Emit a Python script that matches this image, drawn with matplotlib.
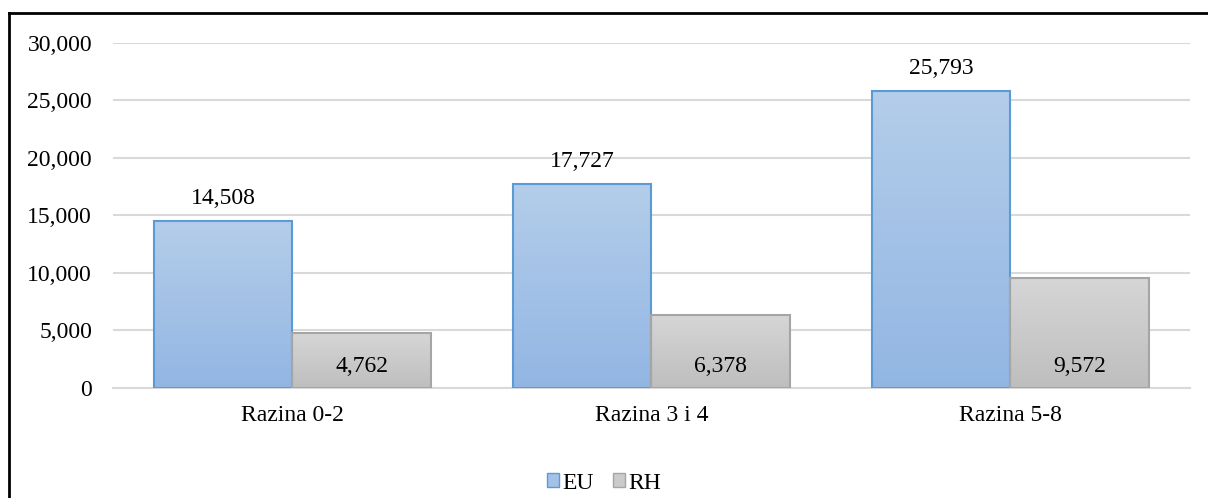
import numpy as np
import matplotlib
matplotlib.use('Agg')
import matplotlib.pyplot as plt
from matplotlib.colors import LinearSegmentedColormap
from matplotlib.lines import Line2D
from matplotlib.patches import Patch

plt.rcParams['font.family'] = ['Liberation Serif', 'DejaVu Serif']

categories = ['Razina 0-2', 'Razina 3 i 4', 'Razina 5-8']
eu_values = [14508, 17727, 25793]
rh_values = [4762, 6378, 9572]
series_names = ['EU', 'RH']

fig = plt.figure(figsize=(12.08, 4.98), dpi=100)
ax = fig.add_axes([0.0935, 0.2209, 0.8915, 0.6928])

x = np.arange(len(categories))
w = 0.385
fs = 17

blue_cmap = LinearSegmentedColormap.from_list('b', ['#92b6e3', '#b4cdea'])
grey_cmap = LinearSegmentedColormap.from_list('g', ['#bebebe', '#d6d6d6'])
grad = np.linspace(0, 1, 256).reshape(-1, 1)


def gradient_bars(bars, cmap):
    # fill each bar with a vertical gradient clipped to the bar shape
    for b in bars:
        x0, y0 = b.get_x(), b.get_y()
        x1, y1 = x0 + b.get_width(), y0 + b.get_height()
        im = ax.imshow(grad, extent=[x0, x1, y0, y1], origin='lower', cmap=cmap,
                       aspect='auto', zorder=2)
        im.set_clip_path(b)


eu_bars = ax.bar(x - w / 2, eu_values, w, facecolor='none', edgecolor='#5b9bd5', linewidth=1.5, zorder=3)
rh_bars = ax.bar(x + w / 2, rh_values, w, facecolor='none', edgecolor='#a5a5a5', linewidth=1.5, zorder=3)
gradient_bars(eu_bars, blue_cmap)
gradient_bars(rh_bars, grey_cmap)

for xi, v in zip(x, eu_values):
    ax.text(xi - w / 2, v + 2000, f'{v:,}', ha='center', va='center', fontsize=fs)
for xi, v in zip(x, rh_values):
    ax.text(xi + w / 2, 1900, f'{v:,}', ha='center', va='center', fontsize=fs)

ax.set_xlim(-0.5, 2.5)
ax.set_ylim(0, 30000)
ax.set_yticks(range(0, 30001, 5000))
ax.set_yticklabels([f'{t:,}' for t in range(0, 30001, 5000)], fontsize=fs)
ax.set_xticks(x)
ax.set_xticklabels(categories, fontsize=fs)
ax.tick_params(length=0, pad=12)
ax.tick_params(axis='y', pad=15)
ax.grid(axis='y', color='#d9d9d9', linewidth=1.5, zorder=0)
ax.set_axisbelow(True)
for s in ['top', 'right', 'left']:
    ax.spines[s].set_visible(False)
ax.spines['bottom'].set_color('#d9d9d9')
ax.spines['bottom'].set_linewidth(1.5)

handles = [Patch(facecolor='#a4c2e8', edgecolor='#5b9bd5'),
           Patch(facecolor='#cbcbcb', edgecolor='#a5a5a5')]
fig.legend(handles, series_names, loc='center', bbox_to_anchor=(0.5, 0.03), ncol=2, frameon=False,
           fontsize=fs, handlelength=0.5, handleheight=0.5, handletextpad=0.15, columnspacing=0.8)

# outer frame (top and left edges visible)
fig.add_artist(Line2D([0.0075, 0.0075], [0, 0.974], color='black', linewidth=2, transform=fig.transFigure))
fig.add_artist(Line2D([0.0075, 1.0], [0.974, 0.974], color='black', linewidth=2, transform=fig.transFigure))

fig.savefig('out.png', dpi=100)
